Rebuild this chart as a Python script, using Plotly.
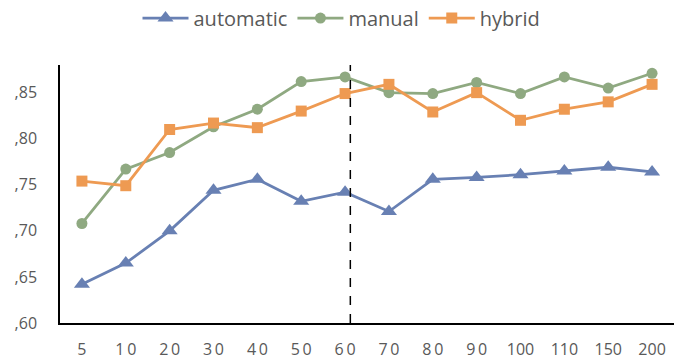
import plotly.graph_objects as go

# Sample sizes along the x axis
categories = ["5", "10", "20", "30", "40", "50", "60", "70", "80", "90", "100", "110", "150", "200"]

automatic = [0.642, 0.665, 0.700, 0.744, 0.756, 0.732, 0.742, 0.721, 0.756, 0.758, 0.761, 0.765, 0.769, 0.764]
manual = [0.708, 0.767, 0.785, 0.813, 0.832, 0.862, 0.867, 0.850, 0.849, 0.861, 0.849, 0.867, 0.855, 0.871]
hybrid = [0.754, 0.749, 0.810, 0.817, 0.812, 0.830, 0.849, 0.859, 0.829, 0.850, 0.820, 0.832, 0.840, 0.859]

y_ticks = [0.60, 0.65, 0.70, 0.75, 0.80, 0.85]
y_tick_text = [",60", ",65", ",70", ",75", ",80", ",85"]

# Position of the vertical divider (just past the "60" category)
divider_x = 6.12

# Two-digit labels are drawn with a little extra spacing between digits
x_tick_text = ["\u2009".join(c) if len(c) == 2 else c for c in categories]
x_pos = list(range(len(categories)))

series = [
    ("automatic", automatic, "#6880B3", "triangle-up", 14),
    ("manual", manual, "#8FA981", "circle", 11),
    ("hybrid", hybrid, "#EE9A52", "square", 11),
]

fig = go.Figure()
for name, values, color, symbol, size in series:
    fig.add_trace(go.Scatter(
        x=x_pos, y=values, name=name, mode="lines+markers",
        line=dict(color=color, width=2.8),
        marker=dict(symbol=symbol, size=size, color=color),
    ))

fig.add_shape(type="line", xref="x", yref="paper",
              x0=divider_x, x1=divider_x, y0=0, y1=1,
              line=dict(color="black", width=1.5, dash="dash"))

fig.update_layout(
    width=683, height=361,
    margin=dict(l=60, r=9, t=65, b=38, autoexpand=False),
    paper_bgcolor="white", plot_bgcolor="white",
    font=dict(family="Open Sans, sans-serif", color="#595959", size=15),
    legend=dict(orientation="h", x=0.5, xanchor="center",
                xref="container", yref="container", y=0.95, yanchor="middle",
                font=dict(size=20, color="#595959"), itemwidth=46,
                traceorder="normal"),
    showlegend=True,
)
fig.update_xaxes(
    range=[-0.5, len(categories) - 0.5],
    tickvals=x_pos, ticktext=x_tick_text, tickfont=dict(size=16),
    showline=True, linecolor="black", linewidth=1.5, automargin=False,
    showgrid=False, zeroline=False, ticks="", ticklabelstandoff=11,
)
fig.update_yaxes(
    range=[0.60, 0.88],
    tickvals=y_ticks, ticktext=y_tick_text, tickfont=dict(size=16),
    showline=True, linecolor="black", linewidth=1.5, automargin=False,
    showgrid=False, zeroline=False, ticks="", ticklabelstandoff=18,
)

fig.write_html("out.html")
